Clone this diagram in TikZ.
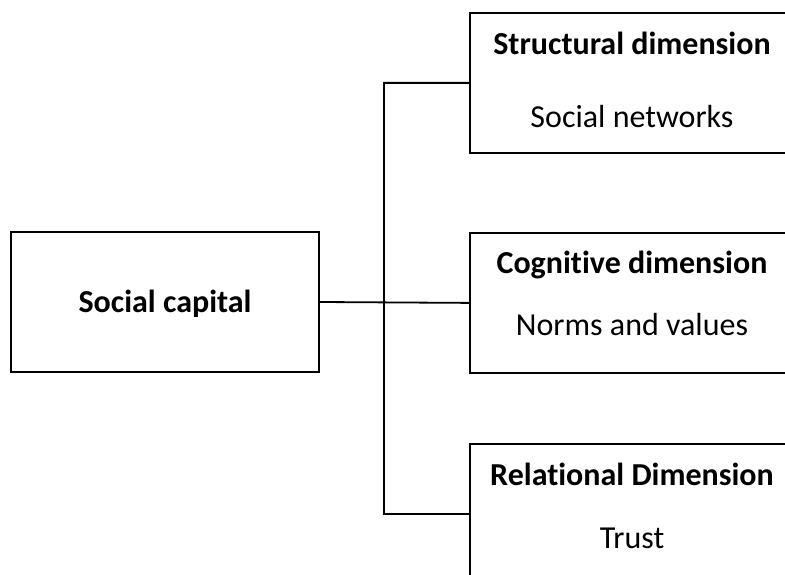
\documentclass[tikz,border=0pt]{standalone}
\usepackage{fontspec}
\setmainfont{Carlito}[Ligatures=CommonOff]
\usetikzlibrary{positioning}
\tikzset{
    capbox/.style = {draw, line width=1.8pt, minimum width=308pt, minimum height=140pt, inner sep=0pt},
    dimbox/.style = {draw, line width=1.8pt, minimum width=330pt, minimum height=140pt, inner sep=0pt, anchor=north west},
    dimtitle/.style = {font=\fontsize{32}{38}\selectfont\bfseries, anchor=base},
    dimitem/.style = {font=\fontsize{32}{38}\selectfont, anchor=base}
}
\begin{document}
\begin{tikzpicture}[x=1pt, y=-1pt]
    \useasboundingbox (0,0) rectangle (785,575);
    \clip (0,0) rectangle (785,575);

    % left box
    \node[capbox] (cap) at (165,302) {};
    \node[dimtitle] (captext) at (165,312) {Social capital};

    % right boxes
    \node[dimbox] (struct) at (469,12) {};
    \node[dimtitle] (structtitle) at (632,55) {Structural dimension};
    \node[dimitem] (structitem) at (632,128) {Social networks};

    \node[dimbox] (cogn) at (469,232) {};
    \node[dimtitle] (cogntitle) at (632,273) {Cognitive dimension};
    \node[dimitem] (cognitem) at (632,335) {Norms and values};

    \node[dimbox] (rel) at (469,443) {};
    \node[dimtitle] (reltitle) at (632,485) {Relational Dimension};
    \node[dimitem] (relitem) at (632,548) {Trust};

    % connectors
    \draw[line width=1.8pt]
        (struct.west) -- ++ (-85,0) coordinate (trunk) |- (rel.west)
        (cap.east) -- (cogn.west)
    ;
\end{tikzpicture}
\end{document}
